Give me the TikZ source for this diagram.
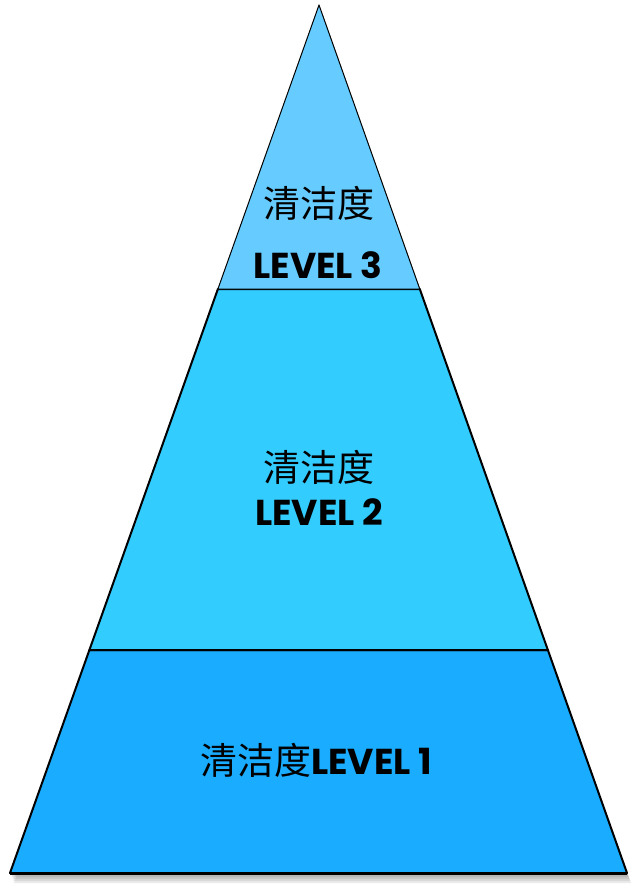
\documentclass[tikz,border=0pt]{standalone}
\usepackage{fontspec}
\setmainfont{Poppins}
\newfontfamily\cjk{Noto Sans CJK SC}
\usetikzlibrary{positioning, calc}

\definecolor{topblue}{HTML}{66CCFF}
\definecolor{midblue}{HTML}{33CCFF}
\definecolor{lowblue}{HTML}{1AADFF}

\begin{document}
\begin{tikzpicture}[
  x=1pt, y=-1pt, node distance=4pt,
  layer/.style={draw, line width=2pt, line join=round},
  zh/.style={font=\cjk\fontsize{37}{40}\selectfont, inner sep=0pt},
  lab/.style={font=\bfseries\fontsize{36}{40}\selectfont, inner sep=0pt}
]
\useasboundingbox (0,0) rectangle (636,890);
\coordinate (apex) at (319,5);
\coordinate (bl) at (10,873);
\coordinate (br) at (627,873);
\coordinate (l3) at ($(apex)!0.3272!(bl)$);
\coordinate (r3) at ($(apex)!0.3272!(br)$);
\coordinate (l2) at ($(apex)!0.7431!(bl)$);
\coordinate (r2) at ($(apex)!0.7431!(br)$);
% soft shadow
\foreach \d in {2,4,6,8,10}
  \fill[black, opacity=0.08] ([shift={(\d*0.4,\d)}]apex) -- ([shift={(\d*0.4,\d)}]bl) -- ([shift={(\d*0.4,\d)}]br) -- cycle;
% layers
\filldraw[layer, fill=lowblue] (l2) -- (r2) -- (br) -- (bl) -- cycle;
\filldraw[layer, fill=midblue] (l3) -- (r3) -- (r2) -- (l2) -- cycle;
\filldraw[layer, line width=1pt, fill=topblue] (apex) -- (r3) -- (l3) -- cycle;
\draw[line width=3pt] (bl) -- (br);
% labels
\node[zh] (z3) at (319,203) {清洁度};
\node[lab] (v3) at (318,265) {LEVEL 3};
\node[zh] (z2) at (319,467) {清洁度};
\node[lab] (v2) at (319,512) {LEVEL 2};
\node[lab] (v1) at (316,760) {{\mdseries\cjk\fontsize{37}{40}\selectfont 清洁度}LEVEL 1};
\end{tikzpicture}
\end{document}
